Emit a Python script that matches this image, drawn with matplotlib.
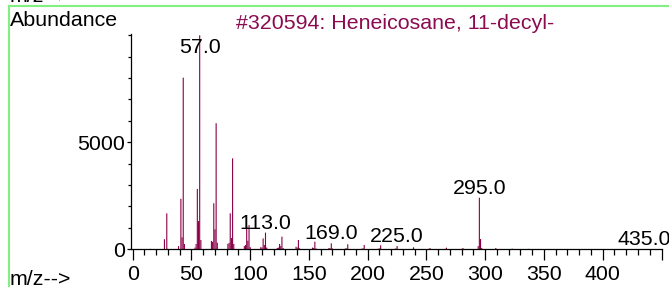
import matplotlib
matplotlib.use("Agg")
import matplotlib.pyplot as plt
from matplotlib.lines import Line2D
from matplotlib.ticker import MultipleLocator, FixedLocator, FixedFormatter

plt.rcParams['font.family'] = ['Liberation Sans', 'DejaVu Sans']

# ---- data ----
mz = [15, 27, 29, 39, 41, 42, 43, 44, 53, 54, 55, 56, 57, 58,
      67, 68, 69, 70, 71, 72, 81, 82, 83, 84, 85, 86,
      95, 96, 97, 98, 99, 100, 109, 110, 111, 112, 113, 114,
      123, 124, 125, 126, 127, 128, 139, 140, 141, 142,
      153, 154, 155, 156, 167, 168, 169, 170, 181, 182, 183,
      195, 196, 197, 209, 210, 211, 223, 224, 225, 238, 239,
      252, 253, 266, 267, 280, 281, 294, 295, 296, 297, 309, 323, 337, 435]
abundance = [20, 470, 1680, 150, 2360, 560, 8020, 250, 80, 250, 2820, 1320, 9999, 435,
             390, 350, 2150, 935, 5890, 310, 250, 300, 1680, 530, 4250, 250,
             150, 200, 1090, 400, 1130, 100, 100, 80, 510, 200, 780, 80,
             60, 80, 250, 150, 590, 60, 120, 80, 435, 50,
             80, 60, 355, 40, 60, 50, 280, 40, 40, 40, 235,
             30, 40, 200, 30, 40, 190, 20, 40, 155, 20, 95,
             20, 60, 20, 75, 20, 60, 150, 2410, 480, 60, 60, 30, 20, 10]
labeled_peaks = [57, 113, 169, 225, 295, 435]
x_tick_values = [0, 50, 100, 150, 200, 250, 300, 350, 400, 450]
x_tick_labels = ['0', '50', '100', '150', '200', '250', '300', '350', '400', '']
y_tick_values = [0, 5000]
y_tick_labels = ['0', '5000']
title_text = '#320594: Heneicosane, 11-decyl-'

W, H = 669, 287
fig = plt.figure(figsize=(W / 100, H / 100), dpi=100)
fig.patch.set_facecolor('white')

def fx(px):
    return px / W

def fy(py):
    return 1 - py / H

ax = fig.add_axes([fx(131), fy(249.3), (661.5 - 131) / W, (249.3 - 34) / H])
ax.set_facecolor('white')

peak_color = '#8A0048'
title_color = '#8B0A50'
FS = 15.4

vl = ax.vlines(mz, 0, abundance, colors=peak_color, linewidth=0.8)
vl.set_snap(False)

ax.set_xlim(-1.45, 450)
ax.set_ylim(0, 10060)

for sp in ['top', 'right']:
    ax.spines[sp].set_visible(False)
for sp in ['left', 'bottom']:
    ax.spines[sp].set_linewidth(0.9)
    ax.spines[sp].set_color('black')

ax.xaxis.set_major_locator(FixedLocator(x_tick_values))
ax.xaxis.set_major_formatter(FixedFormatter(x_tick_labels))
ax.xaxis.set_minor_locator(MultipleLocator(10))
ax.yaxis.set_major_locator(FixedLocator(y_tick_values))
ax.yaxis.set_major_formatter(FixedFormatter(y_tick_labels))
ax.yaxis.set_minor_locator(MultipleLocator(1000))

ax.tick_params(axis='x', which='major', direction='out', length=8, width=0.9,
               labelsize=FS, pad=3.5, colors='black')
ax.tick_params(axis='x', which='minor', direction='out', length=4.5, width=0.9)
ax.tick_params(axis='y', which='major', direction='out', length=3, width=0.9,
               labelsize=FS, pad=1.5, colors='black')
ax.tick_params(axis='y', which='minor', direction='out', length=2, width=0.9)

# peak labels
ab_map = dict(zip(mz, abundance))
for p in labeled_peaks:
    ytxt = min(ab_map[p] + 190, 9170)
    ax.text(p, ytxt, f'{p:.1f}', ha='center', va='baseline', fontsize=FS,
            color='black', clip_on=False)

# figure texts
fig.text(fx(10), fy(26), 'Abundance', fontsize=FS, va='baseline', ha='left', color='black')
fig.text(fx(10), fy(285), 'm/z-->', fontsize=FS, va='baseline', ha='left', color='black')
fig.text(fx(10), fy(1.7), 'm/z-->', fontsize=FS, va='baseline', ha='left', color='black')
fig.text(fx(236), fy(29), title_text, fontsize=FS, va='baseline', ha='left', color=title_color)

# green frame
green = '#80F080'
fig.add_artist(Line2D([fx(9), 1.0], [fy(6), fy(6)], transform=fig.transFigure,
                      color=green, linewidth=1.5))
fig.add_artist(Line2D([fx(9), fx(9)], [fy(6), 0.0], transform=fig.transFigure,
                      color=green, linewidth=1.5))

fig.savefig('out.png', dpi=100, facecolor='white')
